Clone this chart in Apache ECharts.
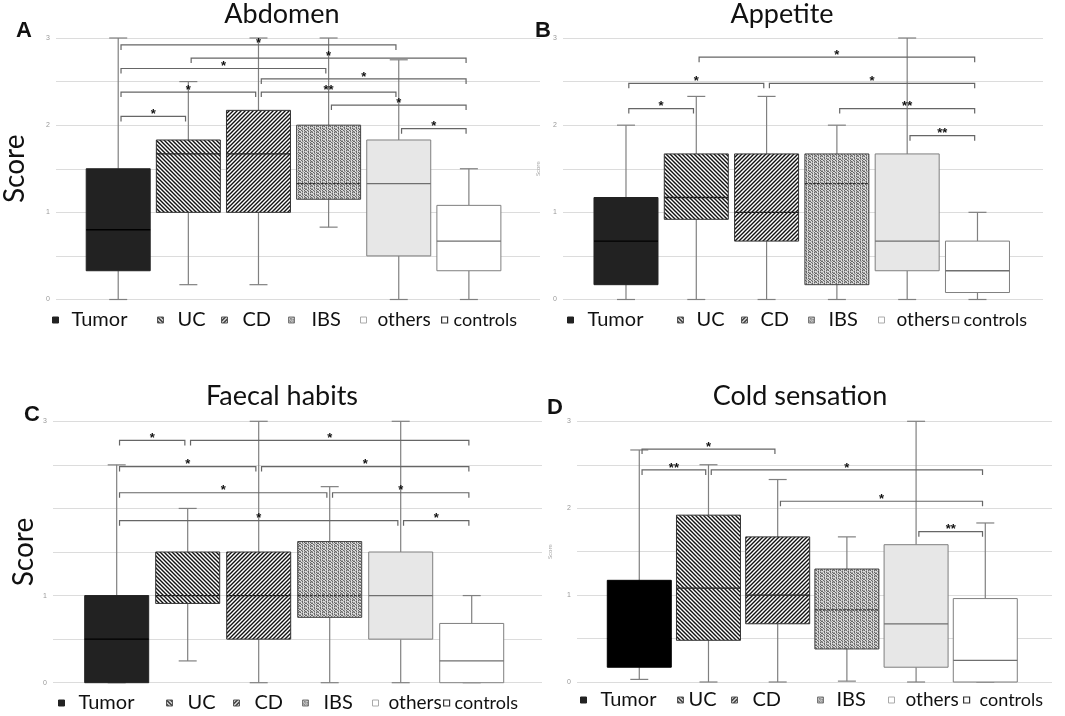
<!DOCTYPE html>
<html>
<head>
<meta charset="utf-8">
<script src="https://cdn.jsdelivr.net/npm/echarts@6/dist/echarts.min.js"></script>
<style>
html,body{margin:0;padding:0;background:#fff;}
#chart{width:1065px;height:716px;}
</style>
</head>
<body>
<div id="chart"></div>
<script>
var groups = ['Tumor', 'UC', 'CD', 'IBS', 'others', 'controls'];
var titles = ['Abdomen', 'Appetite', 'Faecal habits', 'Cold sensation'];
var letters = ['A', 'B', 'C', 'D'];

// box rows: [min, Q1, median, Q3, max]
var abdomenBox = [[0, 0.33, 0.8, 1.5, 3], [0.17, 1, 1.67, 1.83, 2.5], [0.17, 1, 1.67, 2.17, 3],
	[0.83, 1.15, 1.33, 2, 3], [0, 0.5, 1.33, 1.83, 2.75], [0, 0.33, 0.67, 1.08, 1.5]];
var appetiteBox = [[0, 0.17, 0.67, 1.17, 2], [0, 0.92, 1.17, 1.67, 2.33], [0, 0.67, 1, 1.67, 2.33],
	[0, 0.17, 1.33, 1.67, 2], [0, 0.33, 0.67, 1.67, 3], [0, 0.08, 0.33, 0.67, 1]];
var faecalBox = [[0, 0, 0.5, 1, 2.5], [0.25, 0.91, 1, 1.5, 2], [0, 0.5, 1, 1.5, 3],
	[0, 0.75, 1, 1.62, 2.25], [0, 0.5, 1, 1.5, 3], [0, 0, 0.25, 0.68, 1]];
var coldBox = [[0.03, 0.17, 0.5, 1.17, 2.67], [0, 0.48, 1.08, 1.92, 2.5], [0, 0.67, 1, 1.67, 2.33],
	[0.01, 0.38, 0.83, 1.3, 1.67], [0, 0.17, 0.67, 1.58, 3], [0, 0, 0.25, 0.96, 1.83]];

// significance brackets: [from group, to group, height, label]
var abdomenSig = [[0, 4, 2.92, '*'], [1, 5, 2.77, '*'], [0, 3, 2.65, '*'], [2, 5, 2.53, '*'], [0, 2, 2.38, '*'],
	[2, 4, 2.38, '**'], [3, 5, 2.23, '*'], [0, 1, 2.1, '*'], [4, 5, 1.96, '*']];
var appetiteSig = [[1, 5, 2.78, '*'], [0, 2, 2.48, '*'], [2, 5, 2.48, '*'], [0, 1, 2.19, '*'], [3, 5, 2.19, '**'],
	[4, 5, 1.88, '**']];
var faecalSig = [[0, 1, 2.78, '*'], [1, 5, 2.78, '*'], [0, 2, 2.48, '*'], [2, 5, 2.48, '*'], [0, 3, 2.18, '*'],
	[3, 5, 2.18, '*'], [0, 4, 1.86, '*'], [4, 5, 1.86, '*']];
var coldSig = [[0, 2, 2.68, '*'], [0, 1, 2.44, '**'], [1, 5, 2.44, '*'], [2, 5, 2.08, '*'], [4, 5, 1.73, '**']];

// y tick labels (0,1,2,3)
var abdomenTicks = ['0', '1', '2', '3'];
var appetiteTicks = ['0', '1', '2', '3'];
var faecalTicks = ['0', '1', '', '3'];
var coldTicks = ['0', '1', '2', '3'];

var FONT = 'Lato, "Open Sans", sans-serif';

//pattern tiles
function hatch(fwd){
	var c = document.createElement('canvas');
	c.width = 4; c.height = 4;
	var ctx = c.getContext('2d');
	ctx.fillStyle = '#fff';
	ctx.fillRect(0, 0, 4, 4);
	ctx.strokeStyle = '#111';
	ctx.lineWidth = 1.4;
	ctx.beginPath();
	if(fwd){
		ctx.moveTo(-1, 5); ctx.lineTo(5, -1);
		ctx.moveTo(-1, 1); ctx.lineTo(1, -1);
		ctx.moveTo(3, 5); ctx.lineTo(5, 3);
	}else{
		ctx.moveTo(-1, -1); ctx.lineTo(5, 5);
		ctx.moveTo(-1, 3); ctx.lineTo(1, 5);
		ctx.moveTo(3, -1); ctx.lineTo(5, 1);
	}
	ctx.stroke();
	return {image: c, repeat: 'repeat'};
}
function speckle(){
	var map = ['acbcab', 'cbacbc', 'bcacab', 'acbbca', 'cabcac', 'bcacba'];
	var col = {a: '#666', b: '#a6a6a6', c: '#dedede'};
	var c = document.createElement('canvas');
	c.width = 6; c.height = 6;
	var ctx = c.getContext('2d');
	for(var r = 0; r < 6; r++){
		for(var k = 0; k < 6; k++){
			ctx.fillStyle = col[map[r][k]];
			ctx.fillRect(k, r, 1, 1);
		}
	}
	return {image: c, repeat: 'repeat'};
}

var ucFill = hatch(false);
var cdFill = hatch(true);
var ibsFill = speckle();

var boxStyles = [
	{fill: '#222', stroke: '#222', median: '#000'},
	{fill: ucFill, stroke: '#333', median: '#222'},
	{fill: cdFill, stroke: '#333', median: '#222'},
	{fill: ibsFill, stroke: '#444', median: '#333', dash: [3, 1]},
	{fill: '#e7e7e7', stroke: '#7f7f7f', median: '#6f6f6f'},
	{fill: '#fff', stroke: '#7f7f7f', median: '#6f6f6f'}
];
var legendIcons = [
	{color: '#222', borderColor: '#222', borderWidth: 1},
	{color: ucFill, borderColor: '#555', borderWidth: 1},
	{color: cdFill, borderColor: '#555', borderWidth: 1},
	{color: ibsFill, borderColor: '#777', borderWidth: 1},
	{color: '#fff', borderColor: '#aaa', borderWidth: 1},
	{color: '#fff', borderColor: '#333', borderWidth: 1.2}
];
// legend font size per group
var legendFont = [20, 20, 20, 20, 19, 18];

var panels = [
	{box: abdomenBox, sig: abdomenSig, ticks: abdomenTicks, grid: {left: 50, top: 38, width: 490, height: 261.5},
		xr: [-0.887, 6.014], big: true, nameGap: 27, tumor: '#222', title: [282, 1], letter: [16, 20],
		legendY: 320, legendX: [52, 157, 221, 288, 360, 441], legendPad: [8, 9, 10, 12, 6, 1]},
	{box: appetiteBox, sig: appetiteSig, ticks: appetiteTicks, grid: {left: 563, top: 38, width: 480, height: 261.5},
		xr: [-0.896, 5.932], big: false, nameGap: 22, tumor: '#222', title: [782, 1], letter: [535, 20],
		legendY: 320, legendX: [567, 677, 741, 808, 878, 952], legendPad: [9, 8, 8, 9, 7, 0]},
	{box: faecalBox, sig: faecalSig, ticks: faecalTicks, grid: {left: 53, top: 421.3, width: 489, height: 261.4},
		xr: [-0.897, 5.99], big: true, nameGap: 15, tumor: '#222', title: [282, 383], letter: [24, 404],
		legendY: 703, legendX: [58, 166, 233, 302, 372, 443], legendPad: [9, 10, 10, 10, 5, 0]},
	{box: coldBox, sig: coldSig, ticks: coldTicks, grid: {left: 577, top: 421.3, width: 475, height: 260.7},
		xr: [-0.9, 5.964], big: false, nameGap: 24, tumor: '#000', title: [800, 383], letter: [547, 397],
		legendY: 700, legendX: [580, 677, 731, 817, 888, 963], legendPad: [9, 0, 10, 8, 6, 5]}
];

function boxRenderer(st){
	return function(params, api){
		var x = api.value(0);
		var p = [1, 2, 3, 4, 5].map(function(d){ return api.coord([x, api.value(d)]); });
		var cx = p[0][0], hw = 32, cap = 9;
		var ws = {stroke: '#808080', lineWidth: 1.2};
		return {type: 'group', children: [
			{type: 'line', shape: {x1: cx, y1: p[4][1], x2: cx, y2: p[3][1]}, style: ws},
			{type: 'line', shape: {x1: cx, y1: p[1][1], x2: cx, y2: p[0][1]}, style: ws},
			{type: 'line', shape: {x1: cx - cap, y1: p[4][1], x2: cx + cap, y2: p[4][1]}, style: ws},
			{type: 'line', shape: {x1: cx - cap, y1: p[0][1], x2: cx + cap, y2: p[0][1]}, style: ws},
			{type: 'rect', shape: {x: cx - hw, y: p[3][1], width: hw * 2, height: p[1][1] - p[3][1]},
				style: {fill: st.fill, stroke: st.stroke, lineWidth: 1}},
			{type: 'line', shape: {x1: cx - hw, y1: p[2][1], x2: cx + hw, y2: p[2][1]},
				style: {stroke: st.median, lineWidth: 1.3, lineDash: st.dash || null}}
		]};
	};
}

function sigRenderer(sig){
	return function(params, api){
		var a = api.coord([api.value(0) + 0.04, api.value(2)]);
		var b = api.coord([api.value(1) - 0.04, api.value(2)]);
		var y = a[1];
		return {type: 'group', children: [
			{type: 'polyline', shape: {points: [[a[0], y + 5], [a[0], y], [b[0], y], [b[0], y + 5]]},
				style: {stroke: '#666', lineWidth: 1.2, fill: null}},
			{type: 'text', style: {x: (a[0] + b[0]) / 2, y: y - 2, text: sig[params.dataIndex][3],
				textAlign: 'center', textVerticalAlign: 'middle', fill: '#111',
				font: 'bold 13px "Liberation Sans", Arial, sans-serif'}}
		]};
	};
}

var option = {
	animation: false,
	backgroundColor: '#fff',
	title: [], grid: [], xAxis: [], yAxis: [], legend: [], series: []
};

panels.forEach(function(pn, i){
	option.title.push({text: titles[i], left: pn.title[0], top: pn.title[1], textAlign: 'center', padding: 0,
		textStyle: {fontFamily: FONT, fontSize: 27, fontWeight: 'normal', color: '#111'}});
	option.title.push({text: letters[i], left: pn.letter[0], top: pn.letter[1], padding: 0,
		textStyle: {fontFamily: '"Liberation Sans", Arial, sans-serif', fontSize: 22, fontWeight: 'bold', color: '#111'}});
	option.grid.push(pn.grid);
	option.xAxis.push({type: 'value', gridIndex: i, min: pn.xr[0], max: pn.xr[1], show: false});
	option.yAxis.push({
		type: 'value', gridIndex: i, min: 0, max: 3, interval: 0.5,
		name: 'Score', nameLocation: 'middle', nameRotate: 90,
		nameGap: pn.nameGap,
		nameTextStyle: pn.big ? {fontFamily: FONT, fontSize: 28, color: '#111'} : {fontFamily: FONT, fontSize: 6, color: '#aaa'},
		axisLine: {show: false}, axisTick: {show: false},
		axisLabel: {fontSize: 7, color: '#999', margin: 6, formatter: function(v){
			return v % 1 === 0 ? pn.ticks[v] : '';
		}},
		splitLine: {lineStyle: {color: '#dcdcdc', width: 1}}
	});
	groups.forEach(function(g, k){
		option.legend.push({
			left: pn.legendX[k], top: pn.legendY - legendFont[k] / 2, orient: 'horizontal',
			itemWidth: 6, itemHeight: 6, icon: 'rect', selectedMode: false, padding: 0,
			data: [{name: g, itemStyle: legendIcons[k],
				textStyle: {fontFamily: FONT, fontSize: legendFont[k], color: '#111',
					padding: [0, 0, 0, pn.legendPad[k]]}}]
		});
		var st = k === 0 ? {fill: pn.tumor, stroke: pn.tumor, median: '#000'} : boxStyles[k];
		option.series.push({
			type: 'custom', name: g, xAxisIndex: i, yAxisIndex: i,
			itemStyle: {color: legendIcons[k].color},
			renderItem: boxRenderer(st),
			encode: {x: 0, y: [1, 2, 3, 4, 5]},
			data: [[k].concat(pn.box[k])]
		});
	});
	option.series.push({
		type: 'custom', name: 'sig' + i, xAxisIndex: i, yAxisIndex: i, z: 3,
		renderItem: sigRenderer(pn.sig),
		encode: {x: [0, 1], y: 2},
		data: pn.sig.map(function(s){ return [s[0], s[1], s[2]]; })
	});
});

var chart = echarts.init(document.getElementById('chart'));
chart.setOption(option);
</script>
</body>
</html>
